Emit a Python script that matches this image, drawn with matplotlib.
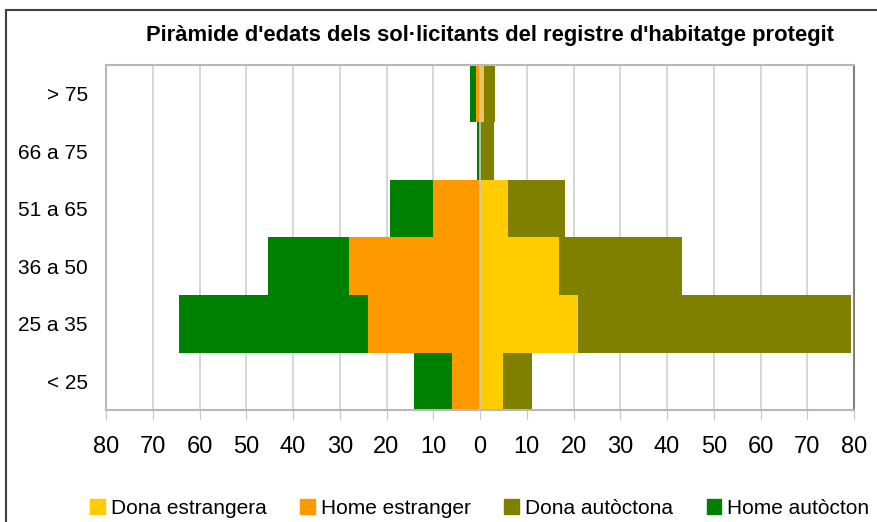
import numpy as np
import matplotlib.pyplot as plt
from matplotlib.patches import Patch, Rectangle

plt.rcParams['font.family'] = ['Liberation Sans', 'DejaVu Sans']

# grups d'edat (de baix a dalt)
ages = ['< 25', '25 a 35', '36 a 50', '51 a 65', '66 a 75', '> 75']

# valors de cada serie
dona_estrangera = [5, 21, 17, 6, 0, 0.85]
home_estranger = [6, 24, 28, 10, 0, 0.85]
dona_autoctona = [6.2, 58.3, 26.3, 12.2, 3.1, 2.35]
home_autocton = [8.1, 40.4, 17.3, 9.2, 0.7, 1.3]

labels = ['Dona estrangera', 'Home estranger', 'Dona autòctona', 'Home autòcton']
colors = ['#FFCC00', '#FF9900', '#808000', '#008000']

xticks = np.arange(-80, 81, 10)

fig = plt.figure(figsize=(8.77, 5.22), dpi=100)
ax = fig.add_axes([106/877, 1-410/522, 748/877, 345/522])

ind = np.arange(len(ages))
width = 1.0

de = np.array(dona_estrangera)
he = np.array(home_estranger)
da = np.array(dona_autoctona)
ha = np.array(home_autocton)

# dones a la dreta, homes a l'esquerra (apilat)
ax.barh(ind, de, width, color=colors[0], zorder=2)
ax.barh(ind, -he, width, color=colors[1], zorder=2)
ax.barh(ind, da, width, left=de, color=colors[2], zorder=2)
ax.barh(ind, -ha, width, left=-he, color=colors[3], zorder=2)

ax.axvline(0, color='#c8c8c8', lw=1.2, zorder=3)

ax.set_xlim(-80, 80)
ax.set_ylim(-0.5, len(ages) - 0.5)
ax.set_xticks(xticks)
ax.set_xticklabels([str(abs(v)) for v in xticks], fontsize=17)
ax.set_yticks(ind)
ax.set_yticklabels(ages, fontsize=15)
ax.tick_params(axis='x', length=7, color='#c8c8c8', pad=12)
ax.tick_params(axis='y', length=0, pad=13)
ax.xaxis.grid(True, color='#d0d0d0', lw=1.2, zorder=0)
ax.set_axisbelow(True)

for s in ['left', 'bottom', 'top']:
    ax.spines[s].set_color('#b8b8b8')
    ax.spines[s].set_linewidth(1.5)
ax.spines['right'].set_color('#808080')
ax.spines['right'].set_linewidth(1.5)

fig.text(490/877, 1-35/522, "Piràmide d'edats dels sol·licitants del registre d'habitatge protegit",
         ha='center', va='center', fontsize=15.8, fontweight='bold')

# marc exterior del grafic
fig.patches.append(Rectangle((6/877, -0.2), 1.2, 1.2 - 10/522, transform=fig.transFigure,
                             fill=False, edgecolor='#404040', lw=1.5))

handles = [Patch(color=c, label=l) for c, l in zip(colors, labels)]
fig.legend(handles=handles, loc='center', bbox_to_anchor=(480/877, 1-508/522), ncol=4,
           frameon=False, fontsize=15, handlelength=0.7, handleheight=0.7,
           handletextpad=0.3, columnspacing=1.6)

fig.savefig('out.png', dpi=100)
